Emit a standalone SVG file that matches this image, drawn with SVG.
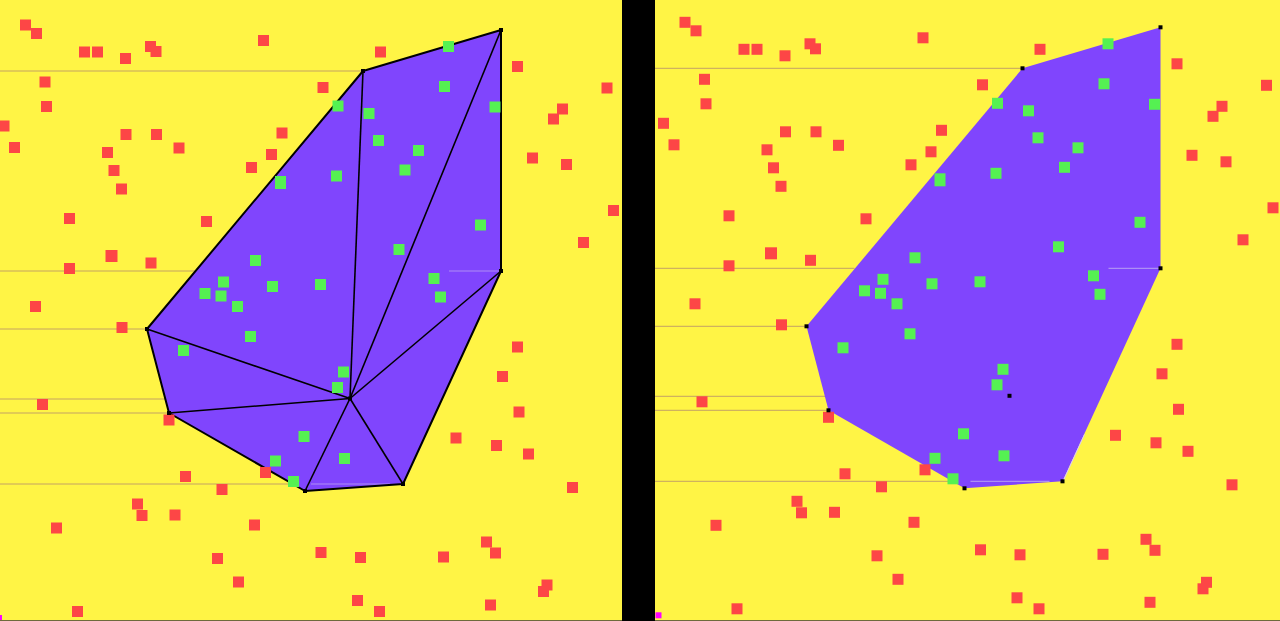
<svg xmlns="http://www.w3.org/2000/svg" xmlns:xlink="http://www.w3.org/1999/xlink" width="1280" height="621" viewBox="0 0 1280 621">
<style>
.bg{fill:#fff445}
.r{fill:#fd4646}
.g{fill:#55f152}
.sw{stroke:#c4a265;stroke-width:1;fill:none}
.swi{stroke:#ad8ef5;stroke-width:1.2;fill:none}
.hull{fill:#8045fd}
.edge{stroke:#000;stroke-width:2;fill:none;stroke-linejoin:round}
.spoke{stroke:#000;stroke-width:1.6;fill:none}
.dot{fill:#000}
.mag{fill:#ff00ff}
</style>
<defs>
<clipPath id="cl"><rect x="0" y="0" width="622" height="621"/></clipPath>
<clipPath id="cr"><rect x="655" y="0" width="625" height="621"/></clipPath>
<g id="sweepOut">
<line class="sw" x1="-10" y1="71" x2="362" y2="71"/>
<line class="sw" x1="-10" y1="271" x2="195" y2="271"/>
<line class="sw" x1="-10" y1="329" x2="147" y2="329"/>
<line class="sw" x1="-10" y1="399" x2="166" y2="399"/>
<line class="sw" x1="-10" y1="413" x2="169" y2="413"/>
<line class="sw" x1="-10" y1="484" x2="292" y2="484"/>
</g>
<g id="sweepIn">
<line class="swi" x1="449" y1="271" x2="500" y2="271"/>
<line class="swi" x1="311" y1="484" x2="390" y2="484"/>
<line stroke="#d8c8ff" stroke-width="1" x1="404" y1="483" x2="425" y2="437"/>
</g>
<polygon id="hullPoly" class="hull" points="363,71 501,30 501,271 403,484 305,491 169,413 147,329"/>
<g id="reds">
<rect class="r" x="20" y="19.5" width="11" height="11"/>
<rect class="r" x="31" y="28" width="11" height="11"/>
<rect class="r" x="79" y="46.5" width="11" height="11"/>
<rect class="r" x="92" y="46.5" width="11" height="11"/>
<rect class="r" x="120" y="53" width="11" height="11"/>
<rect class="r" x="145" y="41" width="11" height="11"/>
<rect class="r" x="150.5" y="46" width="11" height="11"/>
<rect class="r" x="258" y="35" width="11" height="11"/>
<rect class="r" x="39.5" y="76.5" width="11" height="11"/>
<rect class="r" x="41" y="101" width="11" height="11"/>
<rect class="r" x="-1.5" y="120.5" width="11" height="11"/>
<rect class="r" x="9" y="142" width="11" height="11"/>
<rect class="r" x="120.5" y="129" width="11" height="11"/>
<rect class="r" x="151" y="129" width="11" height="11"/>
<rect class="r" x="173.5" y="142.5" width="11" height="11"/>
<rect class="r" x="102" y="147" width="11" height="11"/>
<rect class="r" x="108.5" y="165" width="11" height="11"/>
<rect class="r" x="116" y="183.5" width="11" height="11"/>
<rect class="r" x="276.5" y="127.5" width="11" height="11"/>
<rect class="r" x="266" y="149" width="11" height="11"/>
<rect class="r" x="246" y="162" width="11" height="11"/>
<rect class="r" x="64" y="213" width="11" height="11"/>
<rect class="r" x="201" y="216" width="11" height="11"/>
<rect class="r" x="105.5" y="250" width="12" height="12"/>
<rect class="r" x="145.5" y="257.5" width="11" height="11"/>
<rect class="r" x="64" y="263" width="11" height="11"/>
<rect class="r" x="30" y="301" width="11" height="11"/>
<rect class="r" x="375" y="46.5" width="11" height="11"/>
<rect class="r" x="512" y="61" width="11" height="11"/>
<rect class="r" x="601.5" y="82.5" width="11" height="11"/>
<rect class="r" x="317.5" y="82" width="11" height="11"/>
<rect class="r" x="557" y="103.5" width="11" height="11"/>
<rect class="r" x="548" y="113.5" width="11" height="11"/>
<rect class="r" x="527" y="152.5" width="11" height="11"/>
<rect class="r" x="561" y="159" width="11" height="11"/>
<rect class="r" x="608" y="205" width="11" height="11"/>
<rect class="r" x="578" y="237" width="11" height="11"/>
<rect class="r" x="116.5" y="322" width="11" height="11"/>
<rect class="r" x="37" y="399" width="11" height="11"/>
<rect class="r" x="163.5" y="414.5" width="11" height="11"/>
<rect class="r" x="260" y="467" width="11" height="11"/>
<rect class="r" x="180" y="471" width="11" height="11"/>
<rect class="r" x="216.5" y="484" width="11" height="11"/>
<rect class="r" x="132" y="498.5" width="11" height="11"/>
<rect class="r" x="136.5" y="510" width="11" height="11"/>
<rect class="r" x="169.5" y="509.5" width="11" height="11"/>
<rect class="r" x="51" y="522.5" width="11" height="11"/>
<rect class="r" x="249" y="519.5" width="11" height="11"/>
<rect class="r" x="212" y="553" width="11" height="11"/>
<rect class="r" x="233" y="576.5" width="11" height="11"/>
<rect class="r" x="72" y="606" width="11" height="11"/>
<rect class="r" x="512" y="341.5" width="11" height="11"/>
<rect class="r" x="497" y="371" width="11" height="11"/>
<rect class="r" x="513.5" y="406.5" width="11" height="11"/>
<rect class="r" x="450.5" y="432.5" width="11" height="11"/>
<rect class="r" x="491" y="440" width="11" height="11"/>
<rect class="r" x="523" y="448.5" width="11" height="11"/>
<rect class="r" x="567" y="482" width="11" height="11"/>
<rect class="r" x="315.5" y="547" width="11" height="11"/>
<rect class="r" x="355" y="552" width="11" height="11"/>
<rect class="r" x="438" y="551.5" width="11" height="11"/>
<rect class="r" x="481" y="536.5" width="11" height="11"/>
<rect class="r" x="490" y="547.5" width="11" height="11"/>
<rect class="r" x="541.5" y="579.5" width="11" height="11"/>
<rect class="r" x="538" y="586" width="11" height="11"/>
<rect class="r" x="352" y="595" width="11" height="11"/>
<rect class="r" x="374" y="606" width="11" height="11"/>
<rect class="r" x="485" y="599.5" width="11" height="11"/>
</g>
<g id="greens">
<rect class="g" x="275" y="176" width="11" height="13"/>
<rect class="g" x="250" y="255" width="11" height="11"/>
<rect class="g" x="218" y="276.5" width="11" height="11"/>
<rect class="g" x="199.5" y="288" width="11" height="11"/>
<rect class="g" x="215.5" y="290.5" width="11" height="11"/>
<rect class="g" x="267" y="281" width="11" height="11"/>
<rect class="g" x="232" y="301" width="11" height="11"/>
<rect class="g" x="443" y="41" width="11" height="11"/>
<rect class="g" x="332.5" y="100.5" width="11" height="11"/>
<rect class="g" x="363.5" y="108" width="11" height="11"/>
<rect class="g" x="439" y="81" width="11" height="11"/>
<rect class="g" x="489.5" y="101.5" width="11" height="11"/>
<rect class="g" x="373" y="135" width="11" height="11"/>
<rect class="g" x="413" y="145" width="11" height="11"/>
<rect class="g" x="399.5" y="164.5" width="11" height="11"/>
<rect class="g" x="331" y="170.5" width="11" height="11"/>
<rect class="g" x="475" y="219.5" width="11" height="11"/>
<rect class="g" x="393.5" y="244" width="11" height="11"/>
<rect class="g" x="315" y="279" width="11" height="11"/>
<rect class="g" x="428.5" y="273" width="11" height="11"/>
<rect class="g" x="435" y="291.5" width="11" height="11"/>
<rect class="g" x="245" y="331" width="11" height="11"/>
<rect class="g" x="178" y="345" width="11" height="11"/>
<rect class="g" x="298.5" y="431" width="11" height="11"/>
<rect class="g" x="270" y="455.5" width="11" height="11"/>
<rect class="g" x="288" y="476" width="11" height="11"/>
<rect class="g" x="338" y="366.5" width="11" height="11"/>
<rect class="g" x="332" y="382" width="11" height="11"/>
<rect class="g" x="339" y="453" width="11" height="11"/>
</g>
<g id="dots">
<rect class="dot" x="361" y="69" width="4" height="4"/>
<rect class="dot" x="499" y="28" width="4" height="4"/>
<rect class="dot" x="499" y="269" width="4" height="4"/>
<rect class="dot" x="401" y="482" width="4" height="4"/>
<rect class="dot" x="303" y="489" width="4" height="4"/>
<rect class="dot" x="167" y="411" width="4" height="4"/>
<rect class="dot" x="145" y="327" width="4" height="4"/>
<rect class="dot" x="348" y="396.5" width="4" height="4"/>
</g>
<rect id="magenta" class="mag" x="-4" y="615" width="6" height="6"/>
</defs>

<rect class="bg" x="0" y="0" width="622" height="621"/>
<rect class="bg" x="655" y="0" width="625" height="621"/>
<rect x="622" y="0" width="33" height="621" fill="#000"/>

<g id="left-panel" clip-path="url(#cl)">
<use xlink:href="#sweepOut"/>
<use xlink:href="#hullPoly"/>
<use xlink:href="#sweepIn"/>
<g id="triangulation">
<line class="spoke" x1="350" y1="398.5" x2="363" y2="71"/>
<line class="spoke" x1="350" y1="398.5" x2="501" y2="30"/>
<line class="spoke" x1="350" y1="398.5" x2="501" y2="271"/>
<line class="spoke" x1="350" y1="398.5" x2="403" y2="484"/>
<line class="spoke" x1="350" y1="398.5" x2="305" y2="491"/>
<line class="spoke" x1="350" y1="398.5" x2="169" y2="413"/>
<line class="spoke" x1="350" y1="398.5" x2="147" y2="329"/>
<polygon class="edge" points="363,71 501,30 501,271 403,484 305,491 169,413 147,329"/>
</g>
<use xlink:href="#reds"/>
<use xlink:href="#greens"/>
<use xlink:href="#dots"/>
<use xlink:href="#magenta"/>
</g>

<g id="right-panel" clip-path="url(#cr)">
<g transform="translate(659.5,-2.7)">
<use xlink:href="#sweepOut"/>
<use xlink:href="#hullPoly"/>
<use xlink:href="#sweepIn"/>
<use xlink:href="#reds"/>
<use xlink:href="#greens"/>
<use xlink:href="#dots"/>
<use xlink:href="#magenta"/>
</g>
</g>

<rect x="0" y="620" width="622" height="1" fill="#6e6b3c"/>
<rect x="655" y="620" width="625" height="1" fill="#6e6b3c"/>
</svg>
